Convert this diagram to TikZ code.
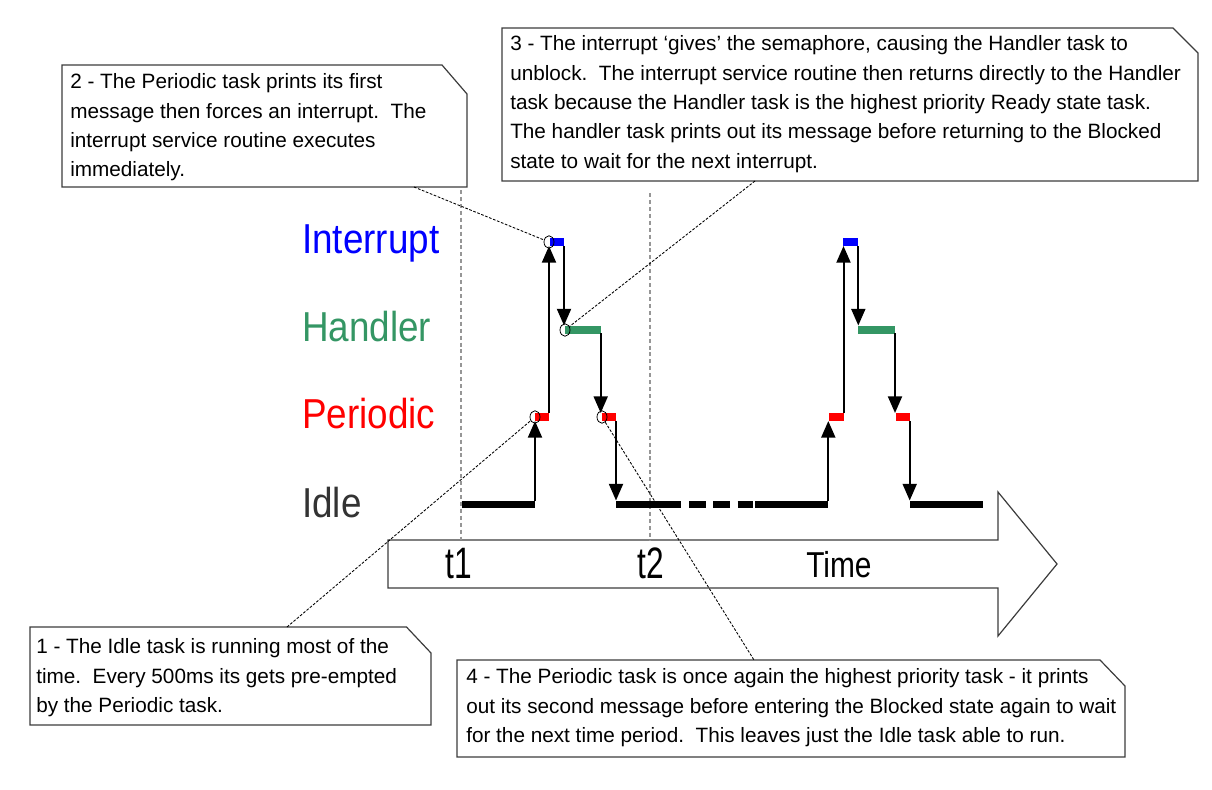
\documentclass[tikz,border=0pt]{standalone}
\usepackage{fontspec}
\setmainfont{Liberation Sans}
\usepackage{graphicx}
\usetikzlibrary{arrows.meta,shapes.geometric}
\definecolor{intblue}{RGB}{0,0,255}
\definecolor{handgreen}{RGB}{52,150,100}
\definecolor{perred}{RGB}{255,0,0}
\definecolor{idlegray}{RGB}{51,51,51}
\definecolor{boxline}{RGB}{60,60,60}
\definecolor{guidegray}{RGB}{150,150,150}
\begin{document}
\begin{tikzpicture}[x=0.75pt,y=-0.75pt,
  lbl/.style={anchor=base west, inner sep=0, font=\fontsize{31.4}{36}\selectfont},
  bigtxt/.style={anchor=base west, inner sep=0},
  note/.style={anchor=base west, inner sep=0, align=left, font=\fontsize{15.55}{22}\selectfont\frenchspacing},
  notebox/.style={draw=boxline, line width=0.9pt, fill=white, line join=miter},
  leader/.style={draw=black, line width=0.65pt, dash pattern=on 2pt off 1.2pt},
  guideline/.style={draw=guidegray, line width=1.1pt, dash pattern=on 3pt off 2.2pt},
  idlebar/.style={line width=5.7pt, black},
  runbar/.style={line width=6pt},
  hop/.style={line width=1.5pt, -{Triangle[length=12.5pt,width=10.5pt]}},
  ring/.style={ellipse, draw, line width=0.6pt, inner sep=0, minimum width=7.5pt, minimum height=9.4pt},
  timearrow/.style={draw=boxline, line width=0.9pt, fill=white, line join=miter}
]
\useasboundingbox (0,0) rectangle (1212,789);

% time arrow
\draw[timearrow] (388,540) -- (998,540) -- (998,492) -- (1057,564) -- (998,636) -- (998,588) -- (388,588) -- cycle;
\node[bigtxt, font=\fontsize{33}{36}\selectfont] (t1) at (445,578) {\scalebox{0.72}[1]{t1}};
\node[bigtxt, font=\fontsize{33}{36}\selectfont] (t2) at (637,578) {\scalebox{0.72}[1]{t2}};
\node[bigtxt, font=\fontsize{27}{30}\selectfont] (time) at (806,577) {\scalebox{0.83}[1]{Time}};

% guide lines
\coordinate (g1a) at (461,190);
\coordinate (g1b) at (461,540);
\coordinate (g2a) at (650,193);
\coordinate (g2b) at (650,540);
\draw[guideline] (g1a) -- (g1b);
\draw[guideline] (g2a) -- (g2b);

% task labels
\node[lbl, text=intblue] (lint) at (302,253) {\scalebox{0.88}[1]{Interrupt}};
\node[lbl, text=handgreen] (lhand) at (302,341) {\scalebox{0.88}[1]{Handler}};
\node[lbl, text=perred] (lper) at (302,428) {\scalebox{0.88}[1]{Periodic}};
\node[lbl, text=idlegray] (lidle) at (302,517) {\scalebox{0.88}[1]{Idle}};

% idle bars
\draw[idlebar] (461.7,504.5) -- (535,504.5);
\draw[idlebar] (616,504.5) -- (681,504.5);
\draw[idlebar] (689,504.5) -- (705.7,504.5);
\draw[idlebar] (713,504.5) -- (730,504.5);
\draw[idlebar] (737.7,504.5) -- (752.7,504.5);
\draw[idlebar] (755,504.5) -- (828,504.5);
\draw[idlebar] (910,504.5) -- (983,504.5);

% running bars
\draw[runbar, perred] (535,417) -- (549,417);
\draw[runbar, perred] (601.7,417) -- (616,417);
\draw[runbar, perred] (829,417) -- (843.7,417);
\draw[runbar, perred] (895.7,417) -- (909.7,417);
\draw[runbar, handgreen] (565,329.5) -- (600.7,329.5);
\draw[runbar, handgreen] (858,329.5) -- (895,329.5);
\draw[runbar, intblue] (550,242) -- (564,242);
\draw[runbar, intblue] (843,242) -- (858,242);

% transition end points
\coordinate (a1s) at (535,501);   \coordinate (a1e) at (535,421);
\coordinate (a2s) at (549,413);   \coordinate (a2e) at (549,246);
\coordinate (a3s) at (564,246);   \coordinate (a3e) at (564,325.5);
\coordinate (a4s) at (600.7,333); \coordinate (a4e) at (600.7,413);
\coordinate (a5s) at (616,421);   \coordinate (a5e) at (616,500.5);
\coordinate (b1s) at (828.3,501); \coordinate (b1e) at (828.3,421);
\coordinate (b2s) at (843.5,413); \coordinate (b2e) at (843.5,246);
\coordinate (b3s) at (858.3,246); \coordinate (b3e) at (858.3,325.5);
\coordinate (b4s) at (895,333);   \coordinate (b4e) at (895,413);
\coordinate (b5s) at (909.7,421); \coordinate (b5e) at (909.7,500.5);
\foreach \p in {a1,a2,a3,a4,a5,b1,b2,b3,b4,b5}{
  \draw[hop] (\p s) -- (\p e);
}

% rings
\node[ring] (cint) at (549,242) {};
\node[ring] (chand) at (565,330) {};
\node[ring] (cper1) at (535,417) {};
\node[ring] (cper2) at (602,417) {};

% callout boxes
\draw[notebox] (30,627) -- (406.5,627) -- (431,653) -- (431,725) -- (30,725) -- cycle;
\draw[notebox] (62,65) -- (442,65) -- (467,94) -- (467,187) -- (62,187) -- cycle;
\draw[notebox] (502,28) -- (1173,28) -- (1198,53) -- (1198,181) -- (502,181) -- cycle;
\draw[notebox] (457,660) -- (1100,660) -- (1125,686) -- (1125,757) -- (457,757) -- cycle;

% note texts (anchored at the baseline of their last line)
\node[note] (n1) at (36,712.6) {1 - The Idle task is running most of the\\time.\ \ Every 500ms its gets pre-empted\\by the Periodic task.};
\node[note] (n2) at (70,176.9) {2 - The Periodic task prints its first\\message then forces an interrupt.\ \ The\\interrupt service routine executes\\immediately.};
\node[note] (n3) at (510,168.2) {3 - The interrupt ‘gives’ the semaphore, causing the Handler task to\\unblock.\ \ The interrupt service routine then returns directly to the Handler\\task because the Handler task is the highest priority Ready state task.\\The handler task prints out its message before returning to the Blocked\\state to wait for the next interrupt.};
\node[note] (n4) at (466,742.6) {4 - The Periodic task is once again the highest priority task - it prints\\out its second message before entering the Blocked state again to wait\\for the next time period.\ \ This leaves just the Idle task able to run.};

% leader lines
\coordinate (l1) at (287,627);
\coordinate (l2) at (414,187);
\coordinate (l3) at (755,181);
\coordinate (l4) at (754,660);
\draw[leader] (l1) -- (cper1);
\draw[leader] (l2) -- (cint);
\draw[leader] (l3) -- (chand);
\draw[leader] (cper2) -- (l4);
\end{tikzpicture}
\end{document}
